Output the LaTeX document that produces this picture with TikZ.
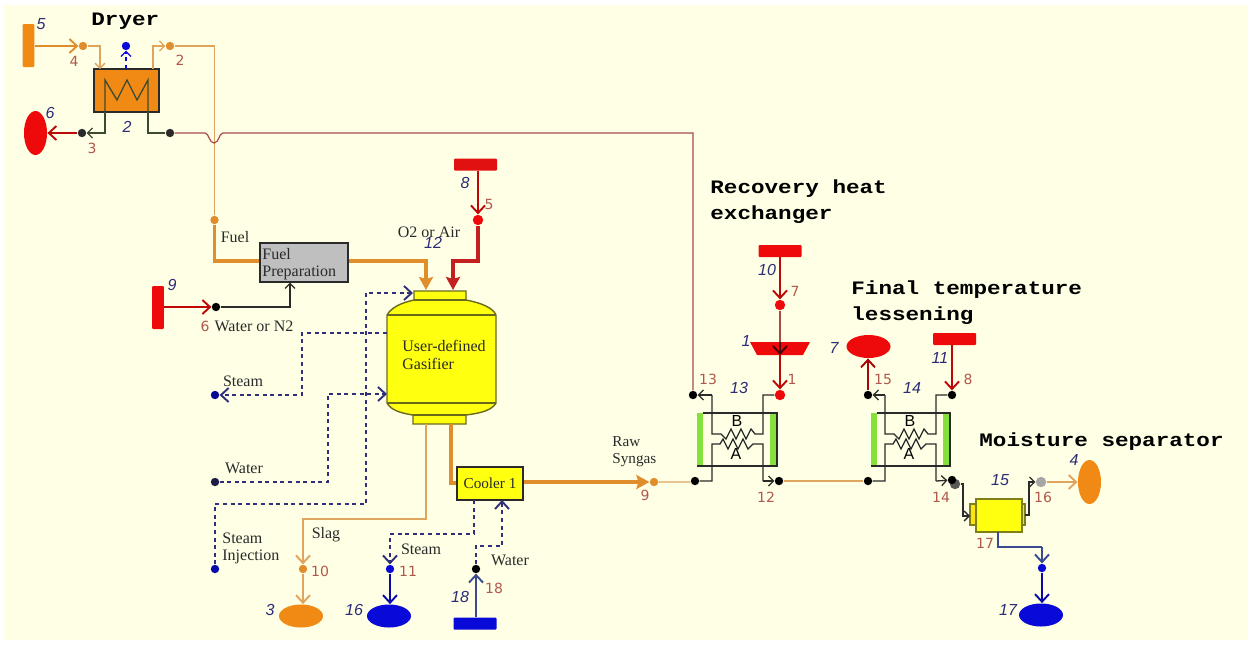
\documentclass[tikz,border=0pt]{standalone}
\usepackage{graphicx}
\usepackage{fontspec}
\setmainfont{Liberation Serif}
\setsansfont{Liberation Sans}
\setmonofont{Liberation Mono}
\newfontfamily\numfont{DejaVu Sans}
\newcommand{\ttltxt}[1]{\scalebox{1.19}[1]{#1}}
\usetikzlibrary{arrows.meta,shapes.geometric,shapes.misc}
\definecolor{bgc}{HTML}{FFFFE6}
\definecolor{orF}{HTML}{F08A14}
\definecolor{orT}{HTML}{DFA55F}
\definecolor{orK}{HTML}{E08E2C}
\definecolor{reF}{HTML}{EE0A0A}
\definecolor{reT}{HTML}{A84A48}
\definecolor{reK}{HTML}{C42020}
\definecolor{blF}{HTML}{0A0AD8}
\definecolor{blT}{HTML}{3A4A90}
\definecolor{blD}{HTML}{30307A}
\definecolor{numr}{HTML}{B0584C}
\definecolor{numb}{HTML}{2C2C78}
\definecolor{ink}{HTML}{2A2A2A}
\definecolor{coil}{HTML}{3C4A30}
\definecolor{grn}{HTML}{86E03A}
\definecolor{yel}{HTML}{FFFF10}
\tikzset{
  x=0.5pt,y=-0.5pt,
  dotn/.style={circle,fill=#1,draw=none,inner sep=0pt,minimum size=4.2pt},
  bigdot/.style={circle,fill=#1,draw=none,inner sep=0pt,minimum size=5.2pt},
  srcv/.style={rectangle,fill=#1,draw=none,rounded corners=.5pt,inner sep=0pt,minimum width=5.8pt,minimum height=21.5pt},
  srch/.style={rectangle,fill=#1,draw=none,rounded corners=.5pt,inner sep=0pt,minimum width=21.5pt,minimum height=6pt},
  ovh/.style={ellipse,fill=#1,draw=none,inner sep=0pt,minimum width=22pt,minimum height=11.5pt},
  ovv/.style={ellipse,fill=#1,draw=none,inner sep=0pt,minimum width=11.5pt,minimum height=22pt},
  numR/.style={font=\numfont\fontsize{7}{8}\selectfont,text=numr,inner sep=0pt},
  numB/.style={font=\sffamily\itshape\fontsize{8}{8}\selectfont,text=numb,inner sep=0pt},
  txt/.style={font=\fontsize{8}{8.6}\selectfont,text=ink,inner sep=0pt,align=left},
  ttl/.style={font=\ttfamily\bfseries\fontsize{9.5}{11}\selectfont,text=black,inner sep=0pt,anchor=west},
  thn/.style={line width=.6pt,draw=#1},
  thk/.style={line width=1.9pt,draw=#1},
  dsh/.style={line width=.65pt,draw=#1,dash pattern=on 2pt off 1.8pt},
  barb/.style={-{Straight Barb[length=3.8pt,width=7pt,line width=.95pt]}},
  sbarb/.style={-{Straight Barb[length=2.5pt,width=5pt,line width=.65pt]}},
  solidtip/.style={-{Stealth[length=6.5pt,width=7pt,inset=1pt]}},
  pline/.style={line width=.65pt,draw=ink},
  boxsty/.style={rectangle,draw=ink,line width=.65pt,inner sep=0pt},
}
\begin{document}
\begin{tikzpicture}
\useasboundingbox (0,0) rectangle (1252,644);
\fill[white] (0,0) rectangle (1252,644);
\fill[bgc] (4,5) rectangle (1248,640);

% ---- Titles
\node[ttl] (tDry) at (91,21) {\ttltxt{Dryer}};
\node[ttl] (tRec1) at (710,189) {\ttltxt{Recovery heat}};
\node[ttl] (tRec2) at (710,215) {\ttltxt{exchanger}};
\node[ttl] (tFin1) at (851,290) {\ttltxt{Final temperature}};
\node[ttl] (tFin2) at (851,316) {\ttltxt{lessening}};
\node[ttl] (tMoi) at (979,442) {\ttltxt{Moisture separator}};

% ---- Sources and sinks
\node[srcv=orF] (s5) at (28.5,45.5) {};
\node[ovv=reF] (o6) at (35.5,133) {};
\node[srch=reK!30!reF] (s8) at (475.5,164.5) {};
\node[srcv=reF] (s9) at (158,307.5) {};
\node[srch=reF] (s10) at (780,251) {};
\node[srch=reF] (s11) at (954.5,339) {};
\node[srch=blF] (s18) at (475,623.5) {};
\node[ovh=reF] (o7) at (868.5,346.5) {};
\node[ovh=orF] (o3) at (301,616) {};
\node[ovh=blF] (o16) at (389,616) {};
\node[ovh=blF] (o17) at (1041,615) {};
\node[ovv=orF] (o4) at (1089.5,482) {};

% ---- Stream markers
\node[dotn=orK] (m4) at (83,46) {};
\node[dotn=orK] (m2) at (170,46) {};
\node[dotn=blF] (m0) at (126,46) {};
\node[dotn=ink] (m3) at (82,133) {};
\node[dotn=ink] (mh) at (170,133) {};
\node[dotn=orK] (mf) at (214.5,220) {};
\node[bigdot=reF] (m5) at (478,220) {};
\node[dotn=black] (m6) at (216,307) {};
\node[dotn=blF!70!black] (mst) at (215,395) {};
\node[dotn=blD!60!black] (mwa) at (215,482) {};
\node[dotn=blF!80!black] (min) at (215,569) {};
\node[dotn=orK] (m10) at (303,569) {};
\node[dotn=blF] (m11) at (390,569) {};
\node[dotn=black] (m18) at (476,569) {};
\node[dotn=orK] (m9) at (654,482) {};
\node[dotn=black] (mA1) at (695,481) {};
\node[dotn=black] (m13) at (693,395) {};
\node[bigdot=reF] (m7) at (780,305) {};
\node[bigdot=reF] (m1) at (780,395) {};
\node[dotn=black] (m12) at (779,481) {};
\node[dotn=black] (mA2) at (868,481) {};
\node[dotn=black] (m15) at (868,395) {};
\node[dotn=black] (m8) at (952,395) {};
\node[bigdot=gray!70!black] (m14b) at (955,484) {};
\node[dotn=black] (m14) at (952,480) {};
\node[bigdot=gray!70] (m16) at (1041,482) {};
\node[dotn=blF] (m17) at (1042,568) {};

% ---- Dryer
\node[boxsty,fill=orF,minimum width=32.5pt,minimum height=21.5pt] (dry) at (126.5,90.5) {};
\draw[line width=.65pt,draw=coil] (105,112) -- (105,80) -- (117,100) -- (127,80) -- (137,100) -- (148,80) -- (148,112);
\coordinate (dL) at (105,112);
\coordinate (dR) at (148,112);
\coordinate (dT) at (153,69);
\coordinate (dC) at (126,69);

% ---- Fuel preparation
\node[boxsty,fill=gray!50,minimum width=44pt,minimum height=19.5pt] (fp) at (304,262.5) {};
\node[txt,anchor=west] (fpt) at (262,264) {Fuel\\Preparation};

% ---- Gasifier
\draw[draw=ink!70!yellow,line width=.7pt,fill=yel] (414,300) -- (414,291) -- (466,291) -- (466,300)
  .. controls (482,303) and (493,308) .. (496,315) -- (496,403)
  .. controls (492,410) and (482,413) .. (466,415) -- (466,424) -- (413,424) -- (413,415)
  .. controls (400,413) and (391,410) .. (387,403) -- (387,315)
  .. controls (391,308) and (400,303) .. (414,300) -- cycle;
\draw[draw=ink!70!yellow,line width=.7pt] (387,315) -- (496,315) (387,403) -- (496,403) (413,415) -- (466,415) (414,300) -- (466,300);
\node[txt,anchor=west] (gas) at (402,355) {User-defined\\Gasifier};
\coordinate (gTop1) at (426,290);
\coordinate (gTop2) at (453,290);
\coordinate (gOutA) at (426,424);
\coordinate (gOutB) at (451,424);
\coordinate (gSteam) at (387,333);
\coordinate (gWater) at (387,394);
\coordinate (gInj) at (413,293);

% ---- Cooler
\node[boxsty,fill=yel,minimum width=33pt,minimum height=16.5pt,font=\fontsize{7.6}{8}\selectfont,text=ink] (cool) at (490,483.5) {Cooler 1};

% ---- Pump
\fill[reF] (750,342) -- (810,342) -- (803,355) -- (757,355) -- cycle;
\coordinate (pumpT) at (780,342);
\coordinate (pumpB) at (780,355);

% ---- Heat exchangers
\foreach \n/\xa/\xb in {hxa/697/770,hxb/871/943}{
  \fill[grn] (\xa,413) rectangle +(6,53);
  \fill[grn] (\xb,413) rectangle +(7,53);
  \draw[pline] (\xa+6,413) -- (\xb+7,413) -- (\xb+7,466) -- (\xa,466);
}
\node[font=\sffamily\fontsize{8}{8}\selectfont,inner sep=0pt] (hB1) at (737,421) {B};
\node[font=\sffamily\fontsize{8}{8}\selectfont,inner sep=0pt] (hA1) at (736,454) {A};
\node[font=\sffamily\fontsize{8}{8}\selectfont,inner sep=0pt] (hB2) at (910,421) {B};
\node[font=\sffamily\fontsize{8}{8}\selectfont,inner sep=0pt] (hA2) at (909,454) {A};

% ---- Separator
\draw[draw=ink!60!yellow,line width=.6pt,fill=yel!80!orange] (970,504) rectangle (977,525);
\draw[draw=ink!60!yellow,line width=.6pt,fill=yel!80!orange] (1020,504) rectangle (1025,525);
\node[draw=ink!60!yellow,line width=.6pt,fill=yel,inner sep=0pt,minimum width=23pt,minimum height=16.5pt,chamfered rectangle,chamfered rectangle corners={north west,north east,south west,south east},chamfered rectangle xsep=2pt,chamfered rectangle ysep=2pt] (sep) at (999,515.5) {};

% ---- Connectors: dryer area
\draw[thn=orT,barb,draw=orK] (s5.east |- m4) -- (m4);
\draw[thn=orT,sbarb] (m4) -- (100,46) -- (100,69);
\draw[dsh=blF,sbarb] (dC) -- (m0);
\draw[thn=orT,sbarb] (dT) -- (153,46) -- (m2);
\draw[thn=orT] (m2) -- (214.5,46) -- (mf);
\draw[line width=.65pt,draw=coil,sbarb] (dL) -- (105,133) -- (m3);
\draw[thn=reT,barb,draw=reF!80!black] (m3) -- (o6);
\draw[line width=.65pt,draw=coil] (dR) -- (148,133) -- (mh);
\draw[thn=reT] (mh) -- (205,133) .. controls (209,133) and (209,143) .. (214,143) .. controls (219,143) and (219,133) .. (223,133) -- (693,133) -- (m13);

% ---- Connectors: gasifier feed
\draw[thk=orK] (mf) -- (214.5,261) -- (fp.west |- 0,261);
\draw[thk=orK,solidtip] (fp.east |- 0,261) -- (426,261) -- (gTop1);
\draw[thn=reT,barb,draw=reF!80!black] (m5 |- s8.south) -- (m5);
\draw[thk=reK,solidtip] (m5) -- (478,261) -- (453,261) -- (gTop2);
\draw[thn=reT,barb,draw=reF!80!black] (s9.east |- m6) -- (m6);
\draw[line width=.7pt,draw=ink,sbarb] (m6) -- (290,307) -- (290,282.5);

% ---- Connectors: dashed utilities
\draw[dsh=blD,barb] (min) -- (215,504) -- (366,504) -- (366,293) -- (gInj);
\draw[dsh=blD,barb] (gSteam) -- (302,333) -- (302,395) -- (mst);
\draw[dsh=blD,barb] (mwa) -- (328,482) -- (328,394) -- (gWater);
\draw[dsh=blD,barb] (474,500) -- (474,534) -- (390,534) -- (m11);
\draw[dsh=blD,barb] (m18) -- (476,546) -- (502,546) -- (502,500);

% ---- Connectors: gasifier outlets
\draw[thn=orT,barb] (gOutA) -- (426,519) -- (303,519) -- (m10);
\draw[thn=orT,barb] (m10) -- (m10 |- o3.north);
\draw[thk=orK] (gOutB) -- (451,483) -- (cool.west |- 0,483);
\draw[thk=orK,solidtip] (cool.east |- m9) -- (m9);
\draw[thn=orT] (m9) -- (690,482) -- (mA1);
\draw[line width=.8pt,draw=blF!80!black,barb] (m11) -- (m11 |- o16.north);
\draw[line width=.8pt,draw=blT,barb] (m18 |- s18.north) -- (m18);

% ---- Connectors: heat exchanger 13
\draw[pline] (mA1) -- (712,481) -- (712,444) -- (720,444) -- (723,439) -- (728,449) -- (733,439) -- (738,449) -- (743,439) -- (748,449) -- (753,444) -- (763,444) -- (763,481);
\draw[pline,sbarb] (763,481) -- (m12);
\draw[pline] (m1) -- (763,395) -- (763,434) -- (755,434) -- (751,429) -- (746,439) -- (741,429) -- (736,439) -- (731,429) -- (726,439) -- (721,434) -- (712,434) -- (712,395);
\draw[pline,sbarb] (712,395) -- (m13);
\draw[thn=reT,barb,draw=reF!80!black] (s10) -- (m7);
\draw[thn=reT] (m7) -- (pumpT);
\draw[thn=reT,barb,draw=reF!80!black] (pumpB) -- (m1);
\draw[line width=.9pt,draw=black!70!red,barb] (pumpT) -- (pumpB);

% ---- Connectors: heat exchanger 14
\draw[thn=orT] (m12) -- (mA2);
\draw[pline] (mA2) -- (885,481) -- (885,444) -- (893,444) -- (896,439) -- (901,449) -- (906,439) -- (911,449) -- (916,439) -- (921,449) -- (926,444) -- (936,444) -- (936,481);
\draw[pline,sbarb] (936,481) -- (m14);
\draw[pline] (m8) -- (936,395) -- (936,434) -- (928,434) -- (924,429) -- (919,439) -- (914,429) -- (909,439) -- (904,429) -- (899,439) -- (894,434) -- (885,434) -- (885,395);
\draw[pline,sbarb] (885,395) -- (m15);
\draw[thn=reT,barb,draw=reF!70!black] (m15) -- (m15 |- o7.south);
\draw[thn=reT,barb,draw=reF!80!black] (m8 |- s11.south) -- (m8);

% ---- Connectors: separator
\draw[pline,sbarb] (m14b) -- (963,484) -- (963,516) -- (970,516);
\draw[pline,sbarb] (1025,515) -- (1029,515) -- (1029,482) -- (m16);
\draw[thn=orT,barb] (m16) -- (o4);
\draw[line width=.7pt,draw=blT] (998,532) -- (998,547) -- (1042,547);
\draw[line width=.7pt,draw=blT,barb] (1042,547) -- (m17);
\draw[line width=.8pt,draw=blF!80!black,barb] (m17) -- (m17 |- o17.north);

% ---- Text labels
\node[txt] (xFuel) at (235,237) {Fuel};
\node[txt] (xO2) at (429,232) {O2 or Air};
\node[txt] (xWN) at (254,326) {Water or N2};
\node[txt] (xSt1) at (243,381) {Steam};
\node[txt] (xWa1) at (244,468) {Water};
\node[txt,anchor=west] (xInj) at (222,548) {Steam\\Injection};
\node[txt] (xSlag) at (326,535) {Slag};
\node[txt] (xSt2) at (421,549) {Steam};
\node[txt] (xWa2) at (510,560) {Water};
\node[txt,anchor=west,font=\fontsize{7.6}{8.6}\selectfont] (xRaw) at (612,452) {Raw\\Syngas};

% ---- Red stream numbers
\node[numR] (r4) at (74,61) {4};
\node[numR] (r2) at (180,60) {2};
\node[numR] (r3) at (92,148) {3};
\node[numR] (r5) at (489,204) {5};
\node[numR] (r6) at (205,326) {6};
\node[numR] (r10) at (320,571) {10};
\node[numR] (r11) at (408,571) {11};
\node[numR] (r18) at (494,588) {18};
\node[numR] (r9) at (645,495) {9};
\node[numR] (r7) at (795,291) {7};
\node[numR] (r1) at (792,379) {1};
\node[numR] (r13) at (708,379) {13};
\node[numR] (r12) at (766,497) {12};
\node[numR] (r15) at (883,379) {15};
\node[numR] (r8) at (968,379) {8};
\node[numR] (r14) at (941,497) {14};
\node[numR] (r16) at (1043,497) {16};
\node[numR] (r17) at (985,543) {17};

% ---- Blue block numbers
\node[numB] (b5) at (41,24) {5};
\node[numB] (b6) at (50,113) {6};
\node[numB] (b2) at (127,127) {2};
\node[numB] (b8) at (465,183) {8};
\node[numB] (b12) at (433,243) {12};
\node[numB] (b9) at (172,285) {9};
\node[numB] (b3) at (270,610) {3};
\node[numB] (b16) at (354,610) {16};
\node[numB] (b18) at (460,597) {18};
\node[numB] (b10) at (767,270) {10};
\node[numB] (b1) at (746,341) {1};
\node[numB] (b13) at (739,388) {13};
\node[numB] (b7) at (834,348) {7};
\node[numB] (b11) at (940,358) {11};
\node[numB] (b14) at (912,388) {14};
\node[numB] (b4) at (1074,460) {4};
\node[numB] (b15) at (1000,480) {15};
\node[numB] (b17) at (1008,610) {17};
\end{tikzpicture}
\end{document}
